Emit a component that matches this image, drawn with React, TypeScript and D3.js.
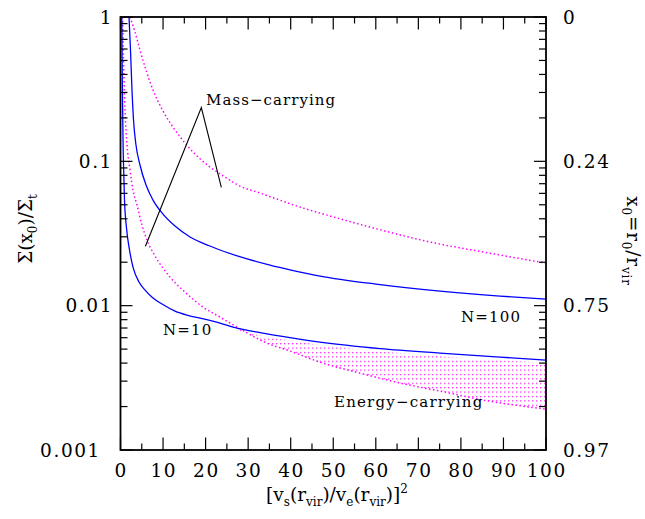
import React from "react";
import * as d3 from "d3";

// ---- data ----
const n100X = [2.0, 2.35, 2.7, 3.06, 3.64, 4.58, 6.0, 7.64, 9.99, 12.81, 16.33, 21.03, 23.38, 29.96, 35.13, 40.07, 46.89, 60.05, 75.09, 89.19, 100];
const n100Y = [1, 0.59, 0.312, 0.1932, 0.1297, 0.0943, 0.0685, 0.0539, 0.0431, 0.0356, 0.0299, 0.0259, 0.0243, 0.021, 0.0191, 0.01765, 0.01604, 0.01411, 0.01262, 0.01165, 0.0111];

const n10X = [0.31, 0.42, 0.59, 0.78, 0.94, 1.41, 2.12, 2.94, 4.35, 5.99, 7.64, 9.75, 12.81, 15.63, 18.68, 23.38, 27.38, 32.78, 39.84, 46.89, 60.99, 75.09, 89.19, 100];
const n10Y = [1, 0.366, 0.1405, 0.0804, 0.0539, 0.0345, 0.0243, 0.0185, 0.01458, 0.01262, 0.01129, 0.01026, 0.00918, 0.00861, 0.0082, 0.00757, 0.00699, 0.00651, 0.00601, 0.00559, 0.00504, 0.00469, 0.0044, 0.0042];

const massX = [2.23, 3.41, 4.58, 5.99, 7.64, 9.99, 12.34, 15.16, 17.98, 21.03, 24.56, 28.08, 32.78, 42.19, 48.53, 58.64, 72.74, 86.84, 100];
const massY = [1, 0.787, 0.59, 0.429, 0.312, 0.2232, 0.1729, 0.1339, 0.1088, 0.0913, 0.0778, 0.0674, 0.0603, 0.0482, 0.0424, 0.03505, 0.0276, 0.0231, 0.0197];

const energyX = [0.47, 0.71, 1.06, 1.53, 2.23, 2.94, 3.88, 5.05, 6.23, 8.11, 9.99, 11.63, 15.16, 19.39, 23.38, 27.38, 34.43, 39.84, 46.89, 56.29, 65.69, 75.09, 85.2, 100];
const energyY = [1, 0.504, 0.2267, 0.1297, 0.0871, 0.0633, 0.0498, 0.0362, 0.0285, 0.0221, 0.0182, 0.01578, 0.01242, 0.00978, 0.00834, 0.00711, 0.0055, 0.00485, 0.00406, 0.00341, 0.00291, 0.00256, 0.00222, 0.00192];

const xTicks = [0, 10, 20, 30, 40, 50, 60, 70, 80, 90, 100];
const xMinor = [5, 15, 25, 35, 45, 55, 65, 75, 85, 95];
const yTicks = [0.001, 0.01, 0.1, 1];
const yTickLabels = ["0.001", "0.01", "0.1", "1"];
const rightTickLabels = ["0.97", "0.75", "0.24", "0"];

// annotation pointer (data coords): end1, vertex, end2
const massPtrX = [5.85, 19, 23.7];
const massPtrY = [0.0258, 0.236, 0.0661];

const L = 120.5, R = 546, T = 17, B = 450;

export default function App() {
  const x = d3.scaleLinear().domain([0, 100]).range([L, R]);
  const y = d3.scaleLog().domain([0.001, 1]).range([B, T]);

  const mk = (xs: number[], ys: number[]) => xs.map((v, i) => [v, ys[i]] as [number, number]);
  const line = d3.line<[number, number]>().x(d => x(d[0])).y(d => y(d[1])).curve(d3.curveMonotoneX);
  const straight = d3.line<[number, number]>().x(d => x(d[0])).y(d => y(d[1]));

  const n100 = mk(n100X, n100Y);
  const n10 = mk(n10X, n10Y);
  const mass = mk(massX, massY);
  const energy = mk(energyX, energyY);

  // minor log ticks
  const yMinor: number[] = [];
  for (let e = -3; e < 0; e++) for (let m = 2; m <= 9; m++) yMinor.push(m * Math.pow(10, e));

  // hatch region: between N=10 curve (offset) and energy curve
  const n10Interp = (v: number) => {
    const path = n10;
    for (let i = 0; i < path.length - 1; i++) {
      if (v >= path[i][0] && v <= path[i + 1][0]) {
        const t = (v - path[i][0]) / (path[i + 1][0] - path[i][0]);
        return Math.pow(10, Math.log10(path[i][1]) * (1 - t) + Math.log10(path[i + 1][1]) * t);
      }
    }
    return path[path.length - 1][1];
  };
  const seg = energy.filter(d => d[0] >= 27.38);
  const hatchTop = seg.map(d => [d[0], n10Interp(d[0])] as [number, number]);
  const topPath = d3.line<[number, number]>().x(d => x(d[0])).y(d => y(d[1]) + 3).curve(d3.curveMonotoneX)(hatchTop) || "";
  const botPts = seg.slice().reverse();
  const botPath = (d3.line<[number, number]>().x(d => x(d[0])).y(d => y(d[1])).curve(d3.curveMonotoneX)(botPts) || "").replace(/^M/, "L");
  const clipD = topPath + botPath + "Z";

  const font = "'DejaVu Serif', serif";
  const magenta = "#ff00ff";
  const tickFs = 18.5;
  const tickLs = 1.6;

  return (
    <svg width={645} height={519} style={{ position: "absolute", left: 0, top: 0 }}>
      <defs>
        <clipPath id="plot">
          <rect x={L} y={T} width={R - L} height={B - T} />
        </clipPath>
        <clipPath id="hatch">
          <path d={clipD} />
        </clipPath>
        <pattern id="hp" patternUnits="userSpaceOnUse" x={0} y={T + 0.5} width={4} height={4.4}>
          <rect x={0} y={0} width={1.4} height={1.2} fill={magenta} opacity={0.85} />
        </pattern>
      </defs>
      <rect width={645} height={519} fill="white" />

      <g clipPath="url(#plot)">
        <rect x={L} y={T} width={R - L} height={B - T} fill="url(#hp)" clipPath="url(#hatch)" />
        <path d={line(mass) || ""} fill="none" stroke={magenta} strokeWidth={1.5} strokeDasharray="1.5,2.5" />
        <path d={line(energy) || ""} fill="none" stroke={magenta} strokeWidth={1.5} strokeDasharray="1.5,2.5" />
        <path d={line(n100) || ""} fill="none" stroke="#0000ff" strokeWidth={1.3} />
        <path d={line(n10) || ""} fill="none" stroke="#0000ff" strokeWidth={1.3} />
      </g>

      {/* annotation pointer */}
      <path d={straight(mk(massPtrX, massPtrY)) || ""} fill="none" stroke="black" strokeWidth={1.1} />

      {/* frame */}
      <rect x={L} y={T} width={R - L} height={B - T} fill="none" stroke="black" strokeWidth={1.8} />

      {/* x ticks */}
      {xTicks.map(t => (
        <g key={"xt" + t}>
          <line x1={x(t)} x2={x(t)} y1={B} y2={B - 12.5} stroke="black" strokeWidth={1.2} />
          <line x1={x(t)} x2={x(t)} y1={T} y2={T + 12.5} stroke="black" strokeWidth={1.2} />
          <text x={x(t) + tickLs / 2} y={477} textAnchor="middle" fontFamily={font} fontSize={tickFs} letterSpacing={tickLs}>{t}</text>
        </g>
      ))}
      {xMinor.map(t => (
        <g key={"xm" + t}>
          <line x1={x(t)} x2={x(t)} y1={B} y2={B - 6.5} stroke="black" strokeWidth={1.2} />
          <line x1={x(t)} x2={x(t)} y1={T} y2={T + 6.5} stroke="black" strokeWidth={1.2} />
        </g>
      ))}

      {/* y ticks */}
      {yTicks.map((t, i) => (
        <g key={"yt" + t}>
          <line x1={L} x2={L + 12} y1={y(t)} y2={y(t)} stroke="black" strokeWidth={1.2} />
          <line x1={R} x2={R - 12} y1={y(t)} y2={y(t)} stroke="black" strokeWidth={1.2} />
          <text x={i === 0 ? 101 : 113} y={y(t) + 6.5} textAnchor="end" fontFamily={font} fontSize={tickFs} letterSpacing={tickLs}>{yTickLabels[i]}</text>
          <text x={563} y={y(t) + 6.5} textAnchor="start" fontFamily={font} fontSize={tickFs} letterSpacing={tickLs}>{rightTickLabels[i]}</text>
        </g>
      ))}
      {yMinor.map(t => (
        <g key={"ym" + t}>
          <line x1={L} x2={L + 7} y1={y(t)} y2={y(t)} stroke="black" strokeWidth={1.2} />
          <line x1={R} x2={R - 7} y1={y(t)} y2={y(t)} stroke="black" strokeWidth={1.2} />
        </g>
      ))}

      {/* annotations */}
      <text x={206} y={105} fontFamily={font} fontSize={15} letterSpacing={1.05}>Mass−carrying</text>
      <text x={163} y={335} fontFamily={font} fontSize={15} letterSpacing={1.2}>N=10</text>
      <text x={461} y={322} fontFamily={font} fontSize={15} letterSpacing={1.2}>N=100</text>
      <text x={334} y={407} fontFamily={font} fontSize={15} letterSpacing={1.2}>Energy−carrying</text>

      {/* x axis title */}
      <text x={337} y={501} textAnchor="middle" fontFamily={font} fontSize={18.5}>
        [v<tspan fontSize={12} dy={5}>s</tspan><tspan dy={-5}>(r</tspan><tspan fontSize={12} dy={5}>vir</tspan><tspan dy={-5}>)/v</tspan><tspan fontSize={12} dy={5}>e</tspan><tspan dy={-5}>(r</tspan><tspan fontSize={12} dy={5}>vir</tspan><tspan dy={-5}>)]</tspan><tspan fontSize={12} dy={-8}>2</tspan>
      </text>

      {/* left axis title */}
      <text transform="translate(32,229) rotate(-90)" textAnchor="middle" fontFamily={font} fontSize={18.5}>
        Σ(x<tspan fontSize={12} dy={5}>0</tspan><tspan dy={-5}>)/Σ</tspan><tspan fontSize={12} dy={5}>t</tspan>
      </text>

      {/* right axis title */}
      <text transform="translate(627,241) rotate(90)" textAnchor="middle" fontFamily={font} fontSize={18.5} letterSpacing={0.8}>
        x<tspan fontSize={12} dy={5}>0</tspan><tspan dy={-5}>=r</tspan><tspan fontSize={12} dy={5}>0</tspan><tspan dy={-5}>/r</tspan><tspan fontSize={12} dy={5}>vir</tspan>
      </text>
    </svg>
  );
}
